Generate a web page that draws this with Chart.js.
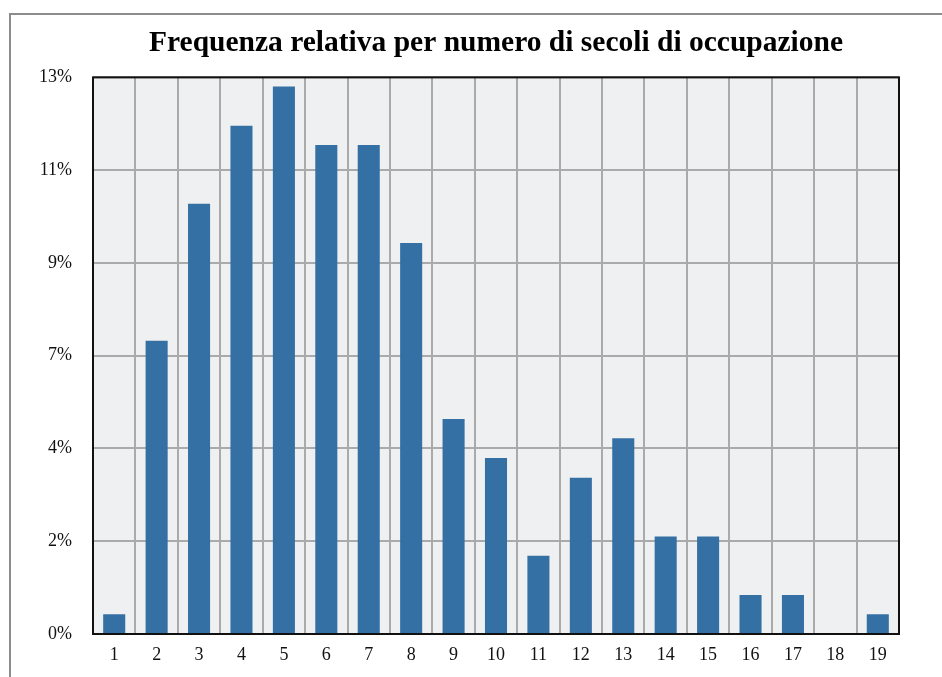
<!DOCTYPE html>
<html>
<head>
<meta charset="utf-8">
<script src="https://cdn.jsdelivr.net/npm/chart.js@4/dist/chart.umd.min.js"></script>
<style>
  html, body { margin: 0; padding: 0; background: #ffffff; }
  #wrap { position: relative; width: 942px; height: 677px; }
  #frame { position: absolute; left: 9px; top: 13px; width: 960px; height: 700px;
           border-left: 2px solid #8c8c8c; border-top: 2px solid #8c8c8c; box-sizing: border-box; }
  canvas { position: absolute; left: 0; top: 0; }
</style>
</head>
<body>
<div id="wrap">
  <div id="frame"></div>
  <canvas id="chart" width="942" height="677"></canvas>
</div>
<script>
// Number of centuries of occupation
const categories = ['1','2','3','4','5','6','7','8','9','10','11','12','13','14','15','16','17','18','19'];
// Relative frequency (%)
const frequencies = [0.46, 6.85, 10.05, 11.87, 12.79, 11.42, 11.42, 9.13, 5.02, 4.11, 1.83, 3.65, 4.57, 2.28, 2.28, 0.91, 0.91, 0, 0.46];
// Y axis: six equal steps up to 13%, labels rounded to whole percent
const yTickValues = [0, 13 / 6, 26 / 6, 39 / 6, 52 / 6, 65 / 6, 13];
const yTickLabels = ['0%', '2%', '4%', '7%', '9%', '11%', '13%'];

const serif = '"Liberation Serif", "Times New Roman", serif';

const plotFrame = {
  id: 'plotFrame',
  beforeDraw(chart) {
    const { ctx, chartArea: a } = chart;
    ctx.save();
    ctx.fillStyle = '#eff0f1';
    ctx.fillRect(a.left, a.top, a.right - a.left, a.bottom - a.top);
    ctx.restore();
  },
  afterDatasetsDraw(chart) {
    const { ctx, chartArea: a } = chart;
    ctx.save();
    ctx.strokeStyle = '#111111';
    ctx.lineWidth = 2;
    ctx.strokeRect(a.left, a.top, a.right - a.left, a.bottom - a.top);
    ctx.restore();
  }
};

new Chart(document.getElementById('chart'), {
  type: 'bar',
  data: {
    labels: categories,
    datasets: [{
      data: frequencies,
      backgroundColor: '#3570a4',
      borderWidth: 0,
      barPercentage: 0.52,
      categoryPercentage: 1.0
    }]
  },
  options: {
    responsive: false,
    animation: false,
    devicePixelRatio: 1,
    layout: { padding: { left: 0, right: 43, top: 0, bottom: 0 } },
    plugins: {
      legend: { display: false },
      tooltip: { enabled: false },
      title: {
        display: true,
        fullSize: false,
        text: 'Frequenza relativa per numero di secoli di occupazione',
        color: '#000000',
        font: { family: serif, size: 29.5, weight: 'bold', lineHeight: 1.2 },
        padding: { top: 26, bottom: 16 }
      }
    },
    scales: {
      x: {
        grid: { display: true, offset: true, color: '#aaaaaa', lineWidth: 2, drawTicks: false },
        border: { display: false },
        ticks: { color: '#111111', font: { family: serif, size: 18 }, padding: 10, maxRotation: 0 },
        afterFit(scale) { scale.height = 43; }
      },
      y: {
        min: 0,
        max: 13,
        afterBuildTicks(scale) { scale.ticks = yTickValues.map(v => ({ value: v })); },
        grid: { display: true, color: '#aaaaaa', lineWidth: 2, drawTicks: false },
        border: { display: false },
        ticks: {
          color: '#111111',
          font: { family: serif, size: 18 },
          padding: 21,
          callback: (v, i) => yTickLabels[i]
        },
        afterFit(scale) { scale.width = 93; }
      }
    }
  },
  plugins: [plotFrame]
});
</script>
</body>
</html>
